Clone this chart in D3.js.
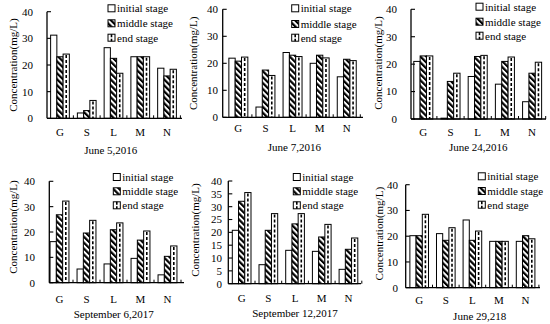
<!DOCTYPE html>
<html>
<head>
<meta charset="utf-8">
<script src="https://cdn.jsdelivr.net/npm/d3@7"></script>
<style>
  body { margin: 0; background: #fff; }
  svg text { font-family: 'Liberation Serif', 'DejaVu Serif', serif; }
</style>
</head>
<body>
<svg id="chart" width="550" height="324"></svg>
<script>
const categories = ['G', 'S', 'L', 'M', 'N'];
const seriesNames = ['initial stage', 'middle stage', 'end stage'];
const dates = ['June 5,2016', 'June 7,2016', 'June 24,2016', 'September 6,2017', 'September 12,2017', 'June 29,218'];

const initialStage = [
  [31.2, 2, 26.5, 23.1, 18.8],
  [21.9, 3.8, 24, 20, 15],
  [21, 0.3, 15.5, 12.7, 6.3],
  [16.2, 5.4, 7.4, 9.6, 3.1],
  [20.8, 7.4, 13, 12.6, 5.6],
  [20.2, 21, 26.3, 18, 18]
];
const middleStage = [
  [23.1, 2.9, 22.5, 23.1, 15.9],
  [20.8, 17.5, 23, 23, 21.5],
  [23, 13.7, 22.8, 21, 16.7],
  [26.8, 19.6, 20.9, 16.8, 10.4],
  [32.1, 20.8, 23.3, 18.2, 13.4],
  [20.2, 18.4, 18.4, 18, 20.2]
];
const endStage = [
  [24.1, 6.7, 16.9, 23.1, 18.4],
  [22.3, 15.5, 22.5, 22, 21],
  [23, 16.7, 23.2, 22.6, 20.7],
  [32.2, 24.6, 23.6, 20.4, 14.5],
  [35.5, 27.3, 27.3, 23.1, 17.8],
  [28.5, 23.3, 22, 18, 19]
];
const tickSteps = [10, 10, 10, 10, 5, 10];
const yMax = 40;

// panel geometry (pixels in the 550x324 frame)
const panels = [
  { ax: 47,    axEnd: 182, b0: 46.6,  b1: 180.4, yTop: 11.7,  yBot: 118.3, tickX: 33,  labX: 13.3, labY: 65,    catY: 131.7, titleX: 110.8, titleY: 150,   legX: 108,   legY: [8.3, 23.3, 37.7] },
  { ax: 222.7, axEnd: 363, b0: 224.8, b1: 360.3, yTop: 9.3,   yBot: 117.3, tickX: 218, labX: 193.3, labY: 63.3, catY: 128.5, titleX: 294.4, titleY: 146.7, legX: 291.7, legY: [8.3, 24, 37.7] },
  { ax: 411,   axEnd: 546, b0: 409.7, b1: 545.7, yTop: 9.3,   yBot: 119,   tickX: 397, labX: 378,  labY: 63,    catY: 131.7, titleX: 478.3, titleY: 146.7, legX: 476,   legY: [6.7, 21.7, 35.7] },
  { ax: 49.3,  axEnd: 184, b0: 46,    b1: 181,   yTop: 181.3, yBot: 282.7, tickX: 35,  labX: 13.3, labY: 227,   catY: 298.7, titleX: 113.7, titleY: 313.7, legX: 113.3, legY: [177, 191.3, 205.3] },
  { ax: 228.3, axEnd: 361, b0: 228.3, b1: 361.8, yTop: 181,   yBot: 283.7, tickX: 222, labX: 195,  labY: 230,   catY: 298,   titleX: 295,   titleY: 312.7, legX: 293.3, legY: [177, 191.3, 205.3] },
  { ax: 405.7, axEnd: 540, b0: 405.9, b1: 538.9, yTop: 184.7, yBot: 287.7, tickX: 398, labX: 379,  labY: 233.7, catY: 300.3, titleX: 479.7, titleY: 316.3, legX: 478.3, legY: [176.3, 191, 204.7] }
];

const svg = d3.select('#chart');
const defs = svg.append('defs');
const serif = "'Liberation Serif', 'DejaVu Serif', serif";

// diagonal "\" stripes for the middle stage
const diag = defs.append('pattern')
  .attr('id', 'diag')
  .attr('patternUnits', 'userSpaceOnUse')
  .attr('width', 4.2)
  .attr('height', 4.2)
  .attr('patternTransform', 'rotate(-45)');
diag.append('rect').attr('width', 4.2).attr('height', 4.2).attr('fill', '#fff');
diag.append('rect').attr('width', 2.2).attr('height', 4.2).attr('fill', '#000');

const fontSize = 11;

panels.forEach((p, pi) => {
  const g = svg.append('g').attr('font-family', serif);
  const y = d3.scaleLinear().domain([0, yMax]).range([p.yBot, p.yTop]);
  const x = d3.scaleBand().domain(categories).range([p.b0, p.b1])
    .paddingInner(0.3).paddingOuter(0.15);
  const bw = x.bandwidth() / 3;
  const series = [initialStage[pi], middleStage[pi], endStage[pi]];

  // bars
  series.forEach((vals, si) => {
    const bars = g.selectAll('.bar' + si)
      .data(categories.map((c, i) => ({ c, v: vals[i] })))
      .join('g');
    bars.append('rect')
      .attr('x', d => x(d.c) + si * bw)
      .attr('y', d => y(d.v))
      .attr('width', bw)
      .attr('height', d => y(0) - y(d.v))
      .attr('fill', si === 1 ? 'url(#diag)' : '#fff')
      .attr('stroke', '#000')
      .attr('stroke-width', 1);
    if (si === 2) {
      bars.append('line')
        .attr('x1', d => x(d.c) + si * bw + bw / 2)
        .attr('x2', d => x(d.c) + si * bw + bw / 2)
        .attr('y1', d => y(d.v) + 1)
        .attr('y2', y(0))
        .attr('stroke', '#000')
        .attr('stroke-width', 1.6)
        .attr('stroke-dasharray', '3,2');
    }
  });

  // y axis
  const ticks = d3.range(0, yMax + 0.001, tickSteps[pi]);
  g.append('line')
    .attr('x1', p.ax).attr('x2', p.ax)
    .attr('y1', y(yMax)).attr('y2', y(0))
    .attr('stroke', '#000').attr('stroke-width', 1.3);
  g.selectAll('.ytick').data(ticks).join('line')
    .attr('x1', p.ax).attr('x2', p.ax + 4)
    .attr('y1', d => y(d)).attr('y2', d => y(d))
    .attr('stroke', '#000').attr('stroke-width', 1.1);
  g.selectAll('.ylab').data(ticks).join('text')
    .attr('x', p.tickX).attr('y', d => y(d))
    .attr('dy', '0.35em')
    .attr('text-anchor', 'end')
    .attr('font-family', serif)
    .attr('font-size', fontSize)
    .text(d => d);

  // x axis
  g.append('line')
    .attr('x1', p.ax).attr('x2', p.axEnd)
    .attr('y1', y(0)).attr('y2', y(0))
    .attr('stroke', '#000').attr('stroke-width', 1.3);
  const step = x.step();
  g.selectAll('.xtick').data(d3.range(1, categories.length + 1)).join('line')
    .attr('x1', i => p.b0 + i * step).attr('x2', i => p.b0 + i * step)
    .attr('y1', y(0)).attr('y2', y(0) - 3)
    .attr('stroke', '#000').attr('stroke-width', 1);
  g.selectAll('.xlab').data(categories).join('text')
    .attr('x', d => x(d) + x.bandwidth() / 2)
    .attr('y', p.catY)
    .attr('dy', '0.35em')
    .attr('text-anchor', 'middle')
    .attr('font-family', serif)
    .attr('font-size', fontSize)
    .text(d => d);

  // y axis title
  g.append('text')
    .attr('transform', `translate(${p.labX},${p.labY}) rotate(-90)`)
    .attr('dy', '0.35em')
    .attr('text-anchor', 'middle')
    .attr('font-family', serif)
    .attr('font-size', fontSize)
    .text('Concentration(mg/L)');

  // panel title
  g.append('text')
    .attr('x', p.titleX).attr('y', p.titleY)
    .attr('dy', '0.35em')
    .attr('text-anchor', 'middle')
    .attr('font-family', serif)
    .attr('font-size', fontSize)
    .text(dates[pi]);

  // legend
  seriesNames.forEach((name, si) => {
    const ly = p.legY[si];
    g.append('rect')
      .attr('x', p.legX).attr('y', ly - 3.5)
      .attr('width', 7).attr('height', 7)
      .attr('fill', si === 1 ? 'url(#diag)' : '#fff')
      .attr('stroke', '#000').attr('stroke-width', 1);
    if (si === 2) {
      g.append('line')
        .attr('x1', p.legX + 3.5).attr('x2', p.legX + 3.5)
        .attr('y1', ly - 3.5).attr('y2', ly + 3.5)
        .attr('stroke', '#000').attr('stroke-width', 1.6)
        .attr('stroke-dasharray', '3,1.5');
    }
    g.append('text')
      .attr('x', p.legX + 9).attr('y', ly)
      .attr('dy', '0.35em')
      .attr('font-family', serif)
      .attr('font-size', fontSize)
      .text(name);
  });
});
</script>
</body>
</html>
